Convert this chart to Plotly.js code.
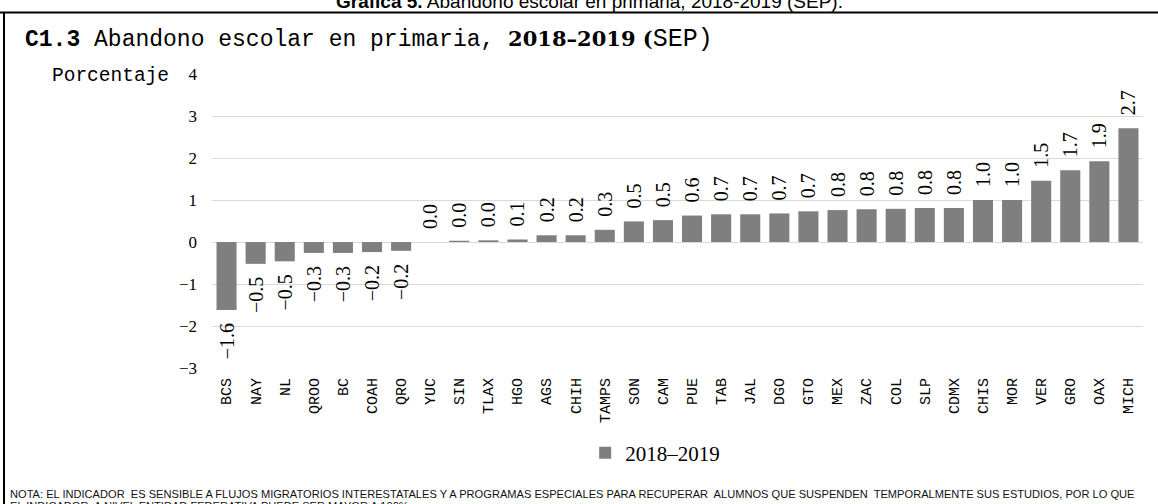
<!DOCTYPE html>
<html>
<head>
<meta charset="utf-8">
<script src="https://cdn.plot.ly/plotly-3.0.1.min.js"></script>
<style>html,body{margin:0;padding:0;background:#fff;}#chart{width:1158px;height:504px;}</style>
</head>
<body>
<div id="chart"></div>
<script>
// ---- data ----
const estados = ["BCS","NAY","NL","QROO","BC","COAH","QRO","YUC","SIN","TLAX","HGO","AGS","CHIH","TAMPS","SON","CAM","PUE","TAB","JAL","DGO","GTO","MEX","ZAC","COL","SLP","CDMX","CHIS","MOR","VER","GRO","OAX","MICH"];
const abandono = [-1.62,-0.52,-0.46,-0.26,-0.26,-0.24,-0.21,0.0,0.03,0.04,0.06,0.16,0.16,0.29,0.49,0.52,0.63,0.66,0.66,0.68,0.73,0.76,0.78,0.79,0.81,0.81,1.0,1.0,1.46,1.71,1.92,2.71];
const serieNombre = "2018\u20132019";
const yTicks = [-3,-2,-1,0,1,2,3,4];

// ---- layout helpers ----
const W = 1158, H = 504, L = 212, R = 15, T = 74, B = 136;
const PW = W - L - R, PH = H - T - B;
const px = x => (x - L) / PW;
const py = y => (H - B - y) / PH;

// value labels: one decimal, true minus sign, small gap from the bar end
const fmt = v => (v < 0 ? "\u2212" : "") + Math.abs(v).toFixed(1);
const etiquetas = abandono.map(v => v >= 0 ? "\u00a0\u00a0" + fmt(v) : fmt(v) + "\u00a0\u00a0");

const trace = {
  type: "bar",
  x: estados,
  y: abandono,
  name: serieNombre,
  marker: {color: "#7f7f7f"},
  text: etiquetas,
  textposition: "outside",
  textangle: -90,
  constraintext: "none",
  cliponaxis: false,
  textfont: {family: "Liberation Serif", size: 20, color: "#000"},
  hoverinfo: "x+y"
};

const layout = {
  width: W, height: H,
  margin: {l: L, r: R, t: T, b: B, pad: 0},
  paper_bgcolor: "#fff", plot_bgcolor: "#fff",
  bargap: 0.31,
  showlegend: true,
  legend: {
    orientation: "h", x: 0.476, xanchor: "center", y: py(453), yanchor: "middle",
    font: {family: "Liberation Serif", size: 21, color: "#000"},
    itemwidth: 30
  },
  title: {
    text: "<b>C1.3</b> Abandono escolar en primaria,\u00a0<span style='font-family:DejaVu Serif;font-weight:bold;font-size:21px'>2018\u20132019 (</span><span style='font-size:25px'>SEP)</span>",
    font: {family: "Liberation Mono", size: 23, color: "#000"},
    xref: "container", yref: "container",
    x: 25 / W, xanchor: "left",
    y: 1 - 38 / H, yanchor: "middle"
  },
  xaxis: {
    type: "category",
    tickangle: -90,
    tickfont: {family: "Liberation Mono", size: 15, color: "#000"},
    showgrid: false, zeroline: false, showline: false,
    ticks: "", ticklabelstandoff: 6
  },
  yaxis: {
    range: [-3, 4],
    tickvals: yTicks,
    tickfont: {family: "Liberation Serif", size: 17, color: "#000"},
    showgrid: true, gridcolor: "#d9d9d9", gridwidth: 1,
    zeroline: true, zerolinecolor: "#d9d9d9", zerolinewidth: 1,
    showline: false, ticks: "", ticklabelstandoff: 14
  },
  annotations: [
    {text: "Porcentaje", xref: "paper", yref: "paper", x: px(50), y: py(76), xanchor: "left", yanchor: "middle",
     showarrow: false, font: {family: "Liberation Mono", size: 19.5, color: "#000"}},
    {text: "<b>Gráfica 5.</b> Abandono escolar en primaria, 2018-2019 (SEP).", xref: "paper", yref: "paper",
     x: px(589), y: py(1), xanchor: "center", yanchor: "middle", showarrow: false,
     font: {family: "Liberation Sans", size: 19, color: "#000"}},
    {text: "NOTA: EL INDICADOR  ES SENSIBLE A FLUJOS MIGRATORIOS INTERESTATALES Y A PROGRAMAS ESPECIALES PARA RECUPERAR  ALUMNOS QUE SUSPENDEN  TEMPORALMENTE SUS ESTUDIOS, POR LO QUE",
     xref: "paper", yref: "paper", x: px(8), y: py(494), xanchor: "left", yanchor: "middle", align: "left",
     showarrow: false, font: {family: "Liberation Sans", size: 11.1, color: "#111"}},
    {text: "EL INDICADOR  A NIVEL ENTIDAD FEDERATIVA PUEDE SER MAYOR A 100%",
     xref: "paper", yref: "paper", x: px(8), y: py(506), xanchor: "left", yanchor: "middle", align: "left",
     showarrow: false, font: {family: "Liberation Sans", size: 11.1, color: "#111"}}
  ],
  shapes: [
    {type: "line", xref: "paper", yref: "paper", x0: px(0), x1: px(W), y0: py(12.5), y1: py(12.5), line: {color: "#000", width: 2}},
    {type: "line", xref: "paper", yref: "paper", x0: px(4), x1: px(4), y0: py(12), y1: py(H), line: {color: "#000", width: 2}}
  ]
};

Plotly.newPlot("chart", [trace], layout, {displayModeBar: false, staticPlot: true});
</script>
</body>
</html>
